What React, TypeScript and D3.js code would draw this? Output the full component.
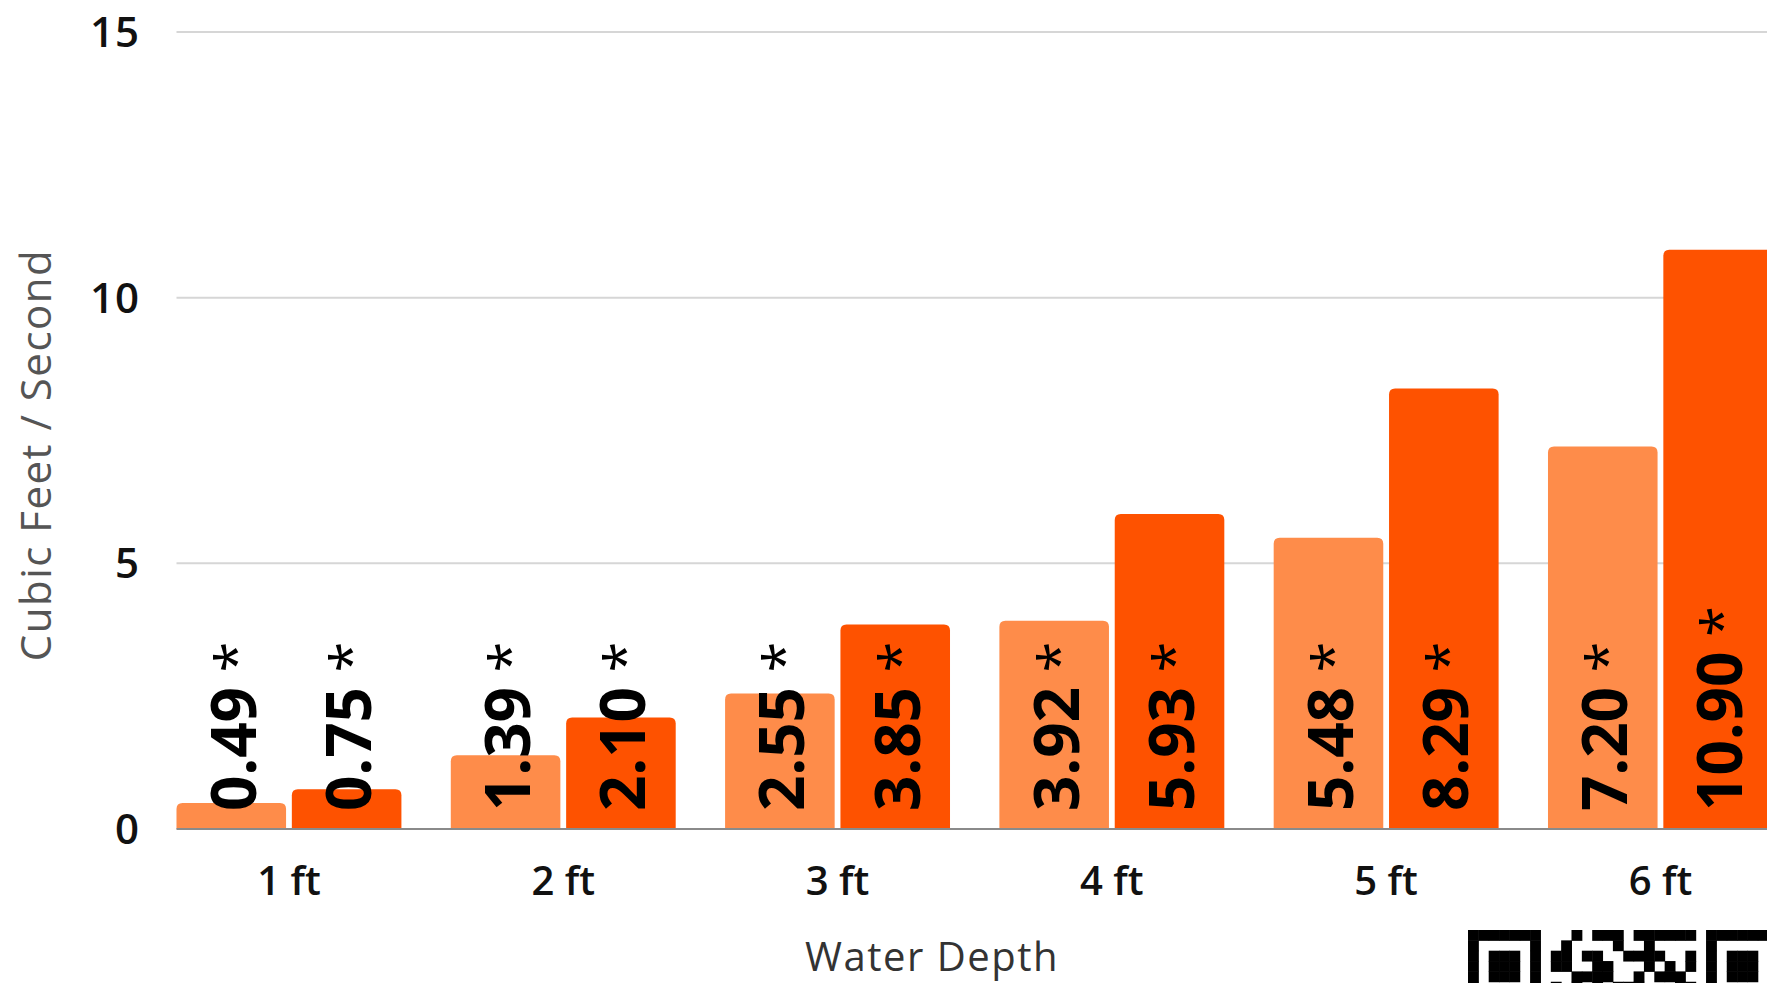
import React from "react";
import * as d3 from "d3";

const categories = ["1 ft", "2 ft", "3 ft", "4 ft", "5 ft", "6 ft"];
const seriesKeys = ["lower", "upper"];
const lowerValues = [0.49, 1.39, 2.55, 3.92, 5.48, 7.2];
const upperValues = [0.75, 2.1, 3.85, 5.93, 8.29, 10.9];
const yTicks = [0, 5, 10, 15];
const seriesColors = ["#FE8C4A", "#FE5200"];

const qrRows = [
  "11111110001011101111110111111",
  "10000010010000100100000100000",
  "10111010110110011110010101110",
  "10111010110011000101010101110",
  "10111010001111001011100101110",
  "10000010101010111000110100000",
];

const W = 1767;
const H = 983;

function topRoundedRect(x: number, y: number, w: number, h: number, r: number) {
  const rr = Math.min(r, h, w / 2);
  const p = d3.path();
  p.moveTo(x, y + h);
  p.lineTo(x, y + rr);
  p.quadraticCurveTo(x, y, x + rr, y);
  p.lineTo(x + w - rr, y);
  p.quadraticCurveTo(x + w, y, x + w, y + rr);
  p.lineTo(x + w, y + h);
  p.closePath();
  return p.toString();
}

export default function App() {
  const y = d3.scaleLinear().domain([0, 15]).range([829, 32]);
  const x0 = d3
    .scaleBand<string>()
    .domain(categories)
    .range([151.8, 1797.6])
    .paddingInner(0.18)
    .paddingOuter(0.09);
  const x1 = d3
    .scaleBand<string>()
    .domain(seriesKeys)
    .range([0, x0.bandwidth()])
    .paddingInner(0.05);

  const data = categories.map((c, i) => ({
    cat: c,
    vals: [lowerValues[i], upperValues[i]],
  }));

  const plotLeft = 176.5;
  const labelFont = "'Open Sans', 'Liberation Sans', sans-serif";
  const mod = 10.35;
  const qrX = 1468;
  const qrY = 930;

  return (
    <svg
      width={W}
      height={H}
      style={{ position: "absolute", left: 0, top: 0, background: "#fff" }}
    >
      <rect x={0} y={0} width={W} height={H} fill="#fff" />
      {yTicks
        .filter((t) => t !== 0)
        .map((t) => (
          <line
            key={"g" + t}
            x1={plotLeft}
            x2={W}
            y1={y(t)}
            y2={y(t)}
            stroke="#d6d6d6"
            strokeWidth={2}
          />
        ))}
      {yTicks.map((t) => (
        <text
          key={"t" + t}
          x={140}
          y={y(t)}
          dy="0.36em"
          textAnchor="end"
          fontFamily={labelFont}
          fontWeight={600}
          fontSize={42}
          letterSpacing={1}
          fill="#111"
        >
          {t}
        </text>
      ))}
      {data.map((d) => (
        <g key={d.cat} transform={`translate(${x0(d.cat)},0)`}>
          {d.vals.map((v, j) => {
            const bx = x1(seriesKeys[j]) as number;
            const bw = x1.bandwidth();
            return (
              <path
                key={j}
                d={topRoundedRect(bx, y(v), bw, y(0) - y(v), 6)}
                fill={seriesColors[j]}
              />
            );
          })}
        </g>
      ))}
      <line x1={plotLeft} x2={W} y1={y(0)} y2={y(0)} stroke="#8a8a8a" strokeWidth={2} />
      {data.map((d) =>
        d.vals.map((v, j) => {
          const cx = (x0(d.cat) as number) + (x1(seriesKeys[j]) as number) + x1.bandwidth() / 2 + 2;
          return (
            <text
              key={d.cat + j}
              transform={`translate(${cx},811) rotate(-90)`}
              dy="0.36em"
              fontFamily={labelFont}
              fontWeight={700}
              fontSize={62}
              fill="#000"
            >
              {v.toFixed(2)}
              <tspan fontWeight={400} fontSize={56}>{" *"}</tspan>
            </text>
          );
        })
      )}
      {categories.map((c) => (
        <text
          key={"c" + c}
          x={(x0(c) as number) + x0.bandwidth() / 2}
          y={895}
          textAnchor="middle"
          fontFamily={labelFont}
          fontWeight={600}
          fontSize={40}
          fill="#111"
        >
          {c}
        </text>
      ))}
      <text
        x={932}
        y={971}
        textAnchor="middle"
        fontFamily={labelFont}
        fontWeight={400}
        fontSize={40}
        letterSpacing={1.5}
        fill="#333"
      >
        Water Depth
      </text>
      <text
        transform="translate(51,455) rotate(-90)"
        textAnchor="middle"
        fontFamily={labelFont}
        fontWeight={400}
        fontSize={42}
        letterSpacing={1.5}
        fill="#555"
      >
        Cubic Feet / Second
      </text>
      <g>
        {qrRows.map((row, r) =>
          row.split("").map((b, c) =>
            b === "1" ? (
              <rect
                key={r + "-" + c}
                x={qrX + c * mod}
                y={qrY + r * mod}
                width={mod + 0.5}
                height={mod + 0.5}
                fill="#000"
              />
            ) : null
          )
        )}
      </g>
    </svg>
  );
}
